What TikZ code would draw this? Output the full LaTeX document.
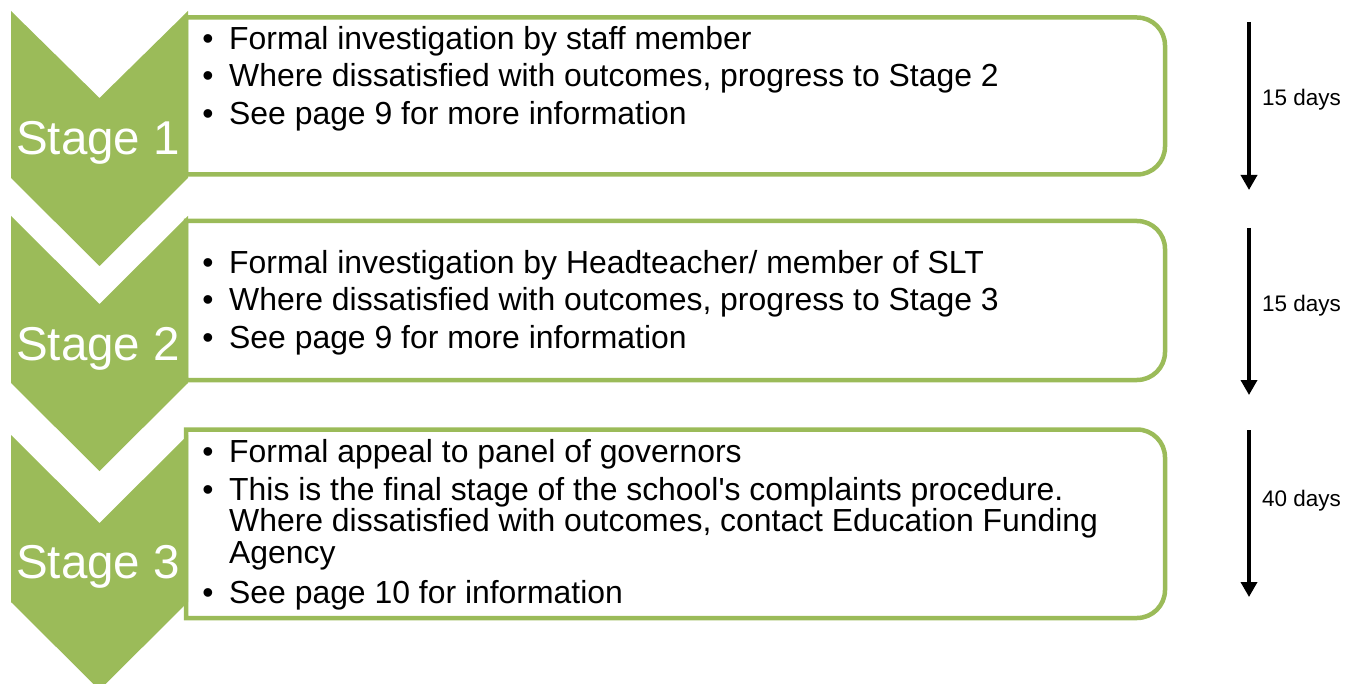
\documentclass[tikz,border=0pt]{standalone}
\usepackage{fontspec}
\setmainfont{Liberation Sans}
\usetikzlibrary{arrows.meta}
\definecolor{stagegreen}{HTML}{9BBB59}
\tikzset{
  chev/.style={fill=stagegreen, draw=none},
  stagebox/.style={draw=stagegreen, line width=4.5pt, fill=white},
  stagelbl/.style={text=white, inner sep=0pt, anchor=base, font=\fontsize{47.5}{48}\selectfont},
  bline/.style={inner sep=0pt, anchor=base west, font=\fontsize{31.9}{32}\selectfont},
  bdot/.style={inner sep=0pt, anchor=base, font=\fontsize{31.9}{32}\selectfont},
  daylbl/.style={inner sep=0pt, anchor=base west, font=\fontsize{22.5}{23}\selectfont},
  timearrow/.style={line width=3.5pt, -{Triangle[width=16pt,length=15pt]}}
}
\begin{document}
\begin{tikzpicture}[x=1pt, y=-1pt]
\useasboundingbox (0,0) rectangle (1348,684);
\clip (0,0) rectangle (1348,684);

% boxes
\draw[stagebox] (186,17.5) -- (1137,17.5) arc[start angle=-90, end angle=0, radius=28] -- (1165,146.5) arc[start angle=0, end angle=90, radius=28] -- (186,174.5) -- cycle;
\draw[stagebox] (186,221) -- (1137,221) arc[start angle=-90, end angle=0, radius=28] -- (1165,352) arc[start angle=0, end angle=90, radius=28] -- (186,380) -- cycle;
\draw[stagebox] (186,429.5) -- (1137,429.5) arc[start angle=-90, end angle=0, radius=28] -- (1165,590) arc[start angle=0, end angle=90, radius=28] -- (186,618) -- cycle;

% chevrons
\fill[chev] (11,11) -- (99.5,98) -- (188,11) -- (188,178) -- (99.5,266) -- (11,178) -- cycle;
\fill[chev] (11,216) -- (99.5,304) -- (188,216) -- (188,383) -- (99.5,471) -- (11,383) -- cycle;
\fill[chev] (11,435) -- (99.5,523) -- (188,435) -- (188,602) -- (99.5,690) -- (11,602) -- cycle;

\node[stagelbl] (s1) at (98,155) {Stage 1};
\node[stagelbl] (s2) at (98,360) {Stage 2};
\node[stagelbl] (s3) at (98,578) {Stage 3};

% box 1 text
\node[bdot] (d11) at (208,49.5) {•};
\node[bline] (t11) at (229,49.5) {Formal investigation by staff member};
\node[bdot] (d12) at (208,87) {•};
\node[bline] (t12) at (229,87) {Where dissatisfied with outcomes, progress to Stage 2};
\node[bdot] (d13) at (208,124.5) {•};
\node[bline] (t13) at (229,124.5) {See page 9 for more information};

% box 2 text
\node[bdot] (d21) at (208,273.5) {•};
\node[bline] (t21) at (229,273.5) {Formal investigation by Headteacher/ member of SLT};
\node[bdot] (d22) at (208,311) {•};
\node[bline] (t22) at (229,311) {Where dissatisfied with outcomes, progress to Stage 3};
\node[bdot] (d23) at (208,348.5) {•};
\node[bline] (t23) at (229,348.5) {See page 9 for more information};

% box 3 text
\node[bdot] (d31) at (208,462) {•};
\node[bline] (t31) at (229,462) {Formal appeal to panel of governors};
\node[bdot] (d32) at (208,500) {•};
\node[bline] (t32) at (229,500) {This is the final stage of the school\textquotesingle s complaints procedure.};
\node[bline] (t33) at (229,531.5) {Where dissatisfied with outcomes, contact Education Funding};
\node[bline] (t34) at (229,563) {Agency};
\node[bdot] (d35) at (208,603) {•};
\node[bline] (t35) at (229,603) {See page 10 for information};

% time arrows
\coordinate (a1s) at (1249,22);  \coordinate (a1e) at (1249,190);
\coordinate (a2s) at (1249,228); \coordinate (a2e) at (1249,395);
\coordinate (a3s) at (1249,430); \coordinate (a3e) at (1249,597);
\draw[timearrow] (a1s) -- (a1e);
\draw[timearrow] (a2s) -- (a2e);
\draw[timearrow] (a3s) -- (a3e);
\node[daylbl] (l1) at (1262,106) {15 days};
\node[daylbl] (l2) at (1262,312) {15 days};
\node[daylbl] (l3) at (1262,506) {40 days};
\end{tikzpicture}
\end{document}
